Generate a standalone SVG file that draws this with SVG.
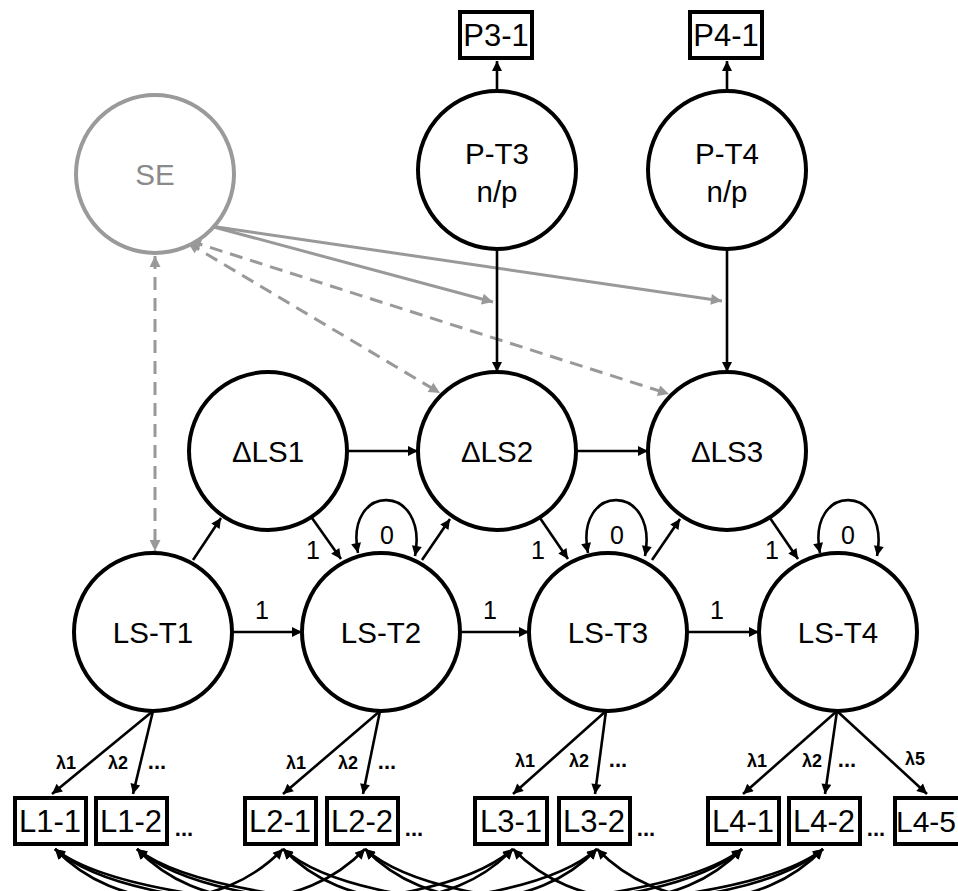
<svg xmlns="http://www.w3.org/2000/svg" width="958" height="891" viewBox="0 0 958 891">
<defs>
<style>
.node circle{fill:#fff;stroke:#000;stroke-width:4}
#SE circle{stroke:#9a9a9a}
#SE text{fill:#8a8a8a}
text{font-family:"Liberation Sans",Arial,sans-serif;text-anchor:middle;fill:#000}
.node text{font-size:29.5px}
.box rect{fill:#fff;stroke:#000;stroke-width:4}
.box text{font-size:31px}
#L45 text{font-size:30px}
.c{fill:none;stroke:#000;stroke-width:2.6}
.g{fill:none;stroke:#999;stroke-width:3}
.d{stroke-dasharray:13 8}
.num{font-size:25px}
.lam{font-size:18px;font-weight:bold}
.dots{font-size:22px;font-weight:bold}
</style>
<marker id="a" viewBox="0 0 10 10" refX="10" refY="5" markerWidth="14" markerHeight="10" markerUnits="userSpaceOnUse" orient="auto-start-reverse"><path d="M0,0L10,5L0,10z" fill="#000"/></marker>
<marker id="ag" viewBox="0 0 10 10" refX="10" refY="5" markerWidth="14" markerHeight="11" markerUnits="userSpaceOnUse" orient="auto-start-reverse"><path d="M0,0L10,5L0,10z" fill="#999"/></marker>
</defs>
<rect width="958" height="891" fill="#fff"/>

<g id="connectors">
  <path class="g d" d="M155,256 L155,551" marker-start="url(#ag)" marker-end="url(#ag)"/>
  <path class="g" d="M210,226 L493,302" marker-end="url(#ag)"/>
  <path class="g" d="M210,226 L722,301" marker-end="url(#ag)"/>
  <path class="g d" d="M188,243 L440,393" marker-start="url(#ag)" marker-end="url(#ag)"/>
  <path class="g d" d="M190,241 L669,394" marker-start="url(#ag)" marker-end="url(#ag)"/>
  <path class="c" d="M497,91 L497,61" marker-end="url(#a)"/>
  <path class="c" d="M727,91 L727,61" marker-end="url(#a)"/>
  <path class="c" d="M497,249 L497,372" marker-end="url(#a)"/>
  <path class="c" d="M727,249 L727,372" marker-end="url(#a)"/>
  <path class="c" d="M347,451 L418,451" marker-end="url(#a)"/>
  <path class="c" d="M576,451 L648,451" marker-end="url(#a)"/>
  <path class="c" d="M232,632 L302,632" marker-end="url(#a)"/>
  <path class="c" d="M461,632 L529,632" marker-end="url(#a)"/>
  <path class="c" d="M687,632 L759,632" marker-end="url(#a)"/>
  <path class="c" d="M193,560 L221,518" marker-end="url(#a)"/>
  <path class="c" d="M312,518 L341,559" marker-end="url(#a)"/>
  <path class="c" d="M422,560 L450,519" marker-end="url(#a)"/>
  <path class="c" d="M540,518 L568,559" marker-end="url(#a)"/>
  <path class="c" d="M652,560 L680,519" marker-end="url(#a)"/>
  <path class="c" d="M770,518 L798,559" marker-end="url(#a)"/>
  <path class="c" d="M358,553 C344,482 429,482 415,556" marker-start="url(#a)" marker-end="url(#a)"/>
  <path class="c" d="M588,553 C574,482 659,482 645,556" marker-start="url(#a)" marker-end="url(#a)"/>
  <path class="c" d="M820,553 C806,482 891,482 877,556" marker-start="url(#a)" marker-end="url(#a)"/>
  <path class="c" d="M153,711 L52,794" marker-end="url(#a)"/>
  <path class="c" d="M153,711 L133,794" marker-end="url(#a)"/>
  <path class="c" d="M380,711 L283,794" marker-end="url(#a)"/>
  <path class="c" d="M380,711 L363,794" marker-end="url(#a)"/>
  <path class="c" d="M606,711 L513,794" marker-end="url(#a)"/>
  <path class="c" d="M606,711 L595,794" marker-end="url(#a)"/>
  <path class="c" d="M837,711 L743,794" marker-end="url(#a)"/>
  <path class="c" d="M837,711 L825,794" marker-end="url(#a)"/>
  <path class="c" d="M837,711 L927,794" marker-end="url(#a)"/>
  <path class="c" d="M55,849 C118,914 220,914 283,849" marker-start="url(#a)" marker-end="url(#a)"/>
  <path class="c" d="M55,849 C137,921 431,921 513,849" marker-start="url(#a)" marker-end="url(#a)"/>
  <path class="c" d="M55,849 C155,928 642,928 742,849" marker-start="url(#a)" marker-end="url(#a)"/>
  <path class="c" d="M283,849 C346,914 450,914 513,849" marker-start="url(#a)" marker-end="url(#a)"/>
  <path class="c" d="M283,849 C365,921 660,921 742,849" marker-start="url(#a)" marker-end="url(#a)"/>
  <path class="c" d="M513,849 C576,914 679,914 742,849" marker-start="url(#a)" marker-end="url(#a)"/>
  <path class="c" d="M137,849 C200,914 302,914 365,849" marker-start="url(#a)" marker-end="url(#a)"/>
  <path class="c" d="M137,849 C219,921 515,921 597,849" marker-start="url(#a)" marker-end="url(#a)"/>
  <path class="c" d="M137,849 C237,928 723,928 823,849" marker-start="url(#a)" marker-end="url(#a)"/>
  <path class="c" d="M365,849 C428,914 534,914 597,849" marker-start="url(#a)" marker-end="url(#a)"/>
  <path class="c" d="M365,849 C447,921 741,921 823,849" marker-start="url(#a)" marker-end="url(#a)"/>
  <path class="c" d="M597,849 C660,914 760,914 823,849" marker-start="url(#a)" marker-end="url(#a)"/>
  <text class="num" x="262" y="619">1</text>
  <text class="num" x="490" y="619">1</text>
  <text class="num" x="717" y="619">1</text>
  <text class="num" x="313" y="559">1</text>
  <text class="num" x="538" y="559">1</text>
  <text class="num" x="772" y="559">1</text>
  <text class="num" x="387" y="544">0</text>
  <text class="num" x="617" y="544">0</text>
  <text class="num" x="848" y="544">0</text>
  <text class="lam" x="66" y="769">λ1</text>
  <text class="lam" x="118" y="769">λ2</text>
  <text class="dots" x="157" y="769">...</text>
  <text class="lam" x="296" y="769">λ1</text>
  <text class="lam" x="348" y="769">λ2</text>
  <text class="dots" x="387" y="769">...</text>
  <text class="lam" x="525" y="767">λ1</text>
  <text class="lam" x="579" y="767">λ2</text>
  <text class="dots" x="618" y="767">...</text>
  <text class="lam" x="757" y="767">λ1</text>
  <text class="lam" x="812" y="767">λ2</text>
  <text class="dots" x="847" y="767">...</text>
  <text class="lam" x="915" y="765">λ5</text>
  <text class="dots" x="184" y="836">...</text>
  <text class="dots" x="414" y="836">...</text>
  <text class="dots" x="646" y="836">...</text>
  <text class="dots" x="876" y="836">...</text>
</g>

<g id="SE" class="node"><circle cx="155" cy="174" r="79"/><text x="155" y="185">SE</text></g>
<g id="PT3" class="node"><circle cx="497" cy="170" r="79"/><text x="497" y="164">P-T3</text><text x="497" y="202">n/p</text></g>
<g id="PT4" class="node"><circle cx="727" cy="170" r="79"/><text x="727" y="164">P-T4</text><text x="727" y="202">n/p</text></g>
<g id="P31" class="box"><rect x="460" y="12" width="72" height="46"/><text x="496" y="46">P3-1</text></g>
<g id="P41" class="box"><rect x="690" y="12" width="72" height="46"/><text x="726" y="46">P4-1</text></g>
<g id="DLS1" class="node"><circle cx="268" cy="451" r="79"/><text x="268" y="462">ΔLS1</text></g>
<g id="DLS2" class="node"><circle cx="497" cy="451" r="79"/><text x="497" y="462">ΔLS2</text></g>
<g id="DLS3" class="node"><circle cx="727" cy="451" r="79"/><text x="727" y="462">ΔLS3</text></g>
<g id="LST1" class="node"><circle cx="153" cy="632" r="79"/><text x="153" y="643">LS-T1</text></g>
<g id="LST2" class="node"><circle cx="381" cy="632" r="79"/><text x="381" y="643">LS-T2</text></g>
<g id="LST3" class="node"><circle cx="608" cy="632" r="79"/><text x="608" y="643">LS-T3</text></g>
<g id="LST4" class="node"><circle cx="838" cy="632" r="79"/><text x="838" y="643">LS-T4</text></g>
<g id="L11" class="box"><rect x="15" y="798" width="71" height="46"/><text x="50" y="832">L1-1</text></g>
<g id="L12" class="box"><rect x="96" y="798" width="71" height="46"/><text x="131" y="832">L1-2</text></g>
<g id="L21" class="box"><rect x="245" y="798" width="71" height="46"/><text x="280" y="832">L2-1</text></g>
<g id="L22" class="box"><rect x="327" y="798" width="71" height="46"/><text x="362" y="832">L2-2</text></g>
<g id="L31" class="box"><rect x="475" y="798" width="72" height="46"/><text x="511" y="832">L3-1</text></g>
<g id="L32" class="box"><rect x="559" y="798" width="71" height="46"/><text x="594" y="832">L3-2</text></g>
<g id="L41" class="box"><rect x="708" y="798" width="71" height="46"/><text x="743" y="832">L4-1</text></g>
<g id="L42" class="box"><rect x="789" y="798" width="71" height="46"/><text x="824" y="832">L4-2</text></g>
<g id="L45" class="box"><rect x="895" y="798" width="71" height="46"/><text x="926" y="832">L4-5</text></g>
</svg>
